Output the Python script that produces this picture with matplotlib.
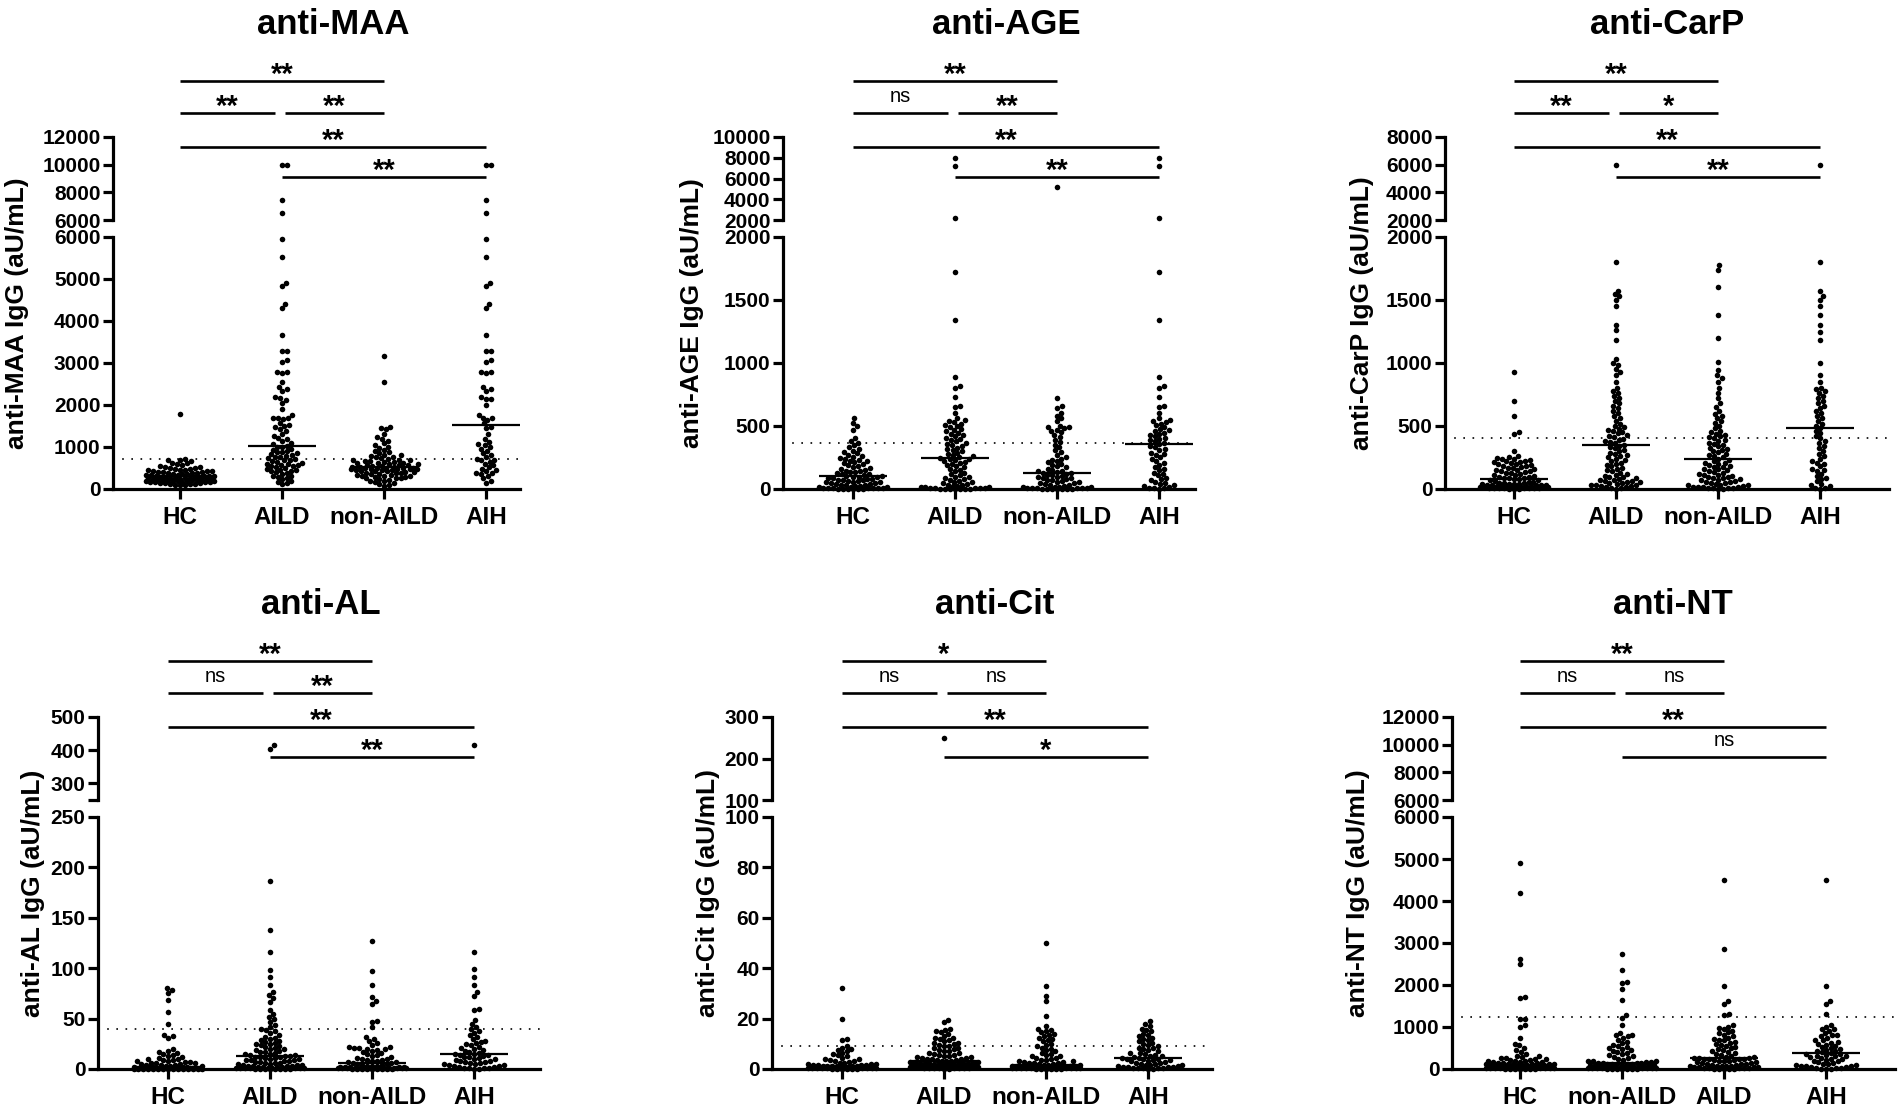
import numpy as np
import matplotlib
matplotlib.use("Agg")
import matplotlib.pyplot as plt
from matplotlib.transforms import blended_transform_factory

# ---- data (aU/mL) ----
groups = ["HC", "AILD", "non-AILD", "AIH"]
groups_nt = ["HC", "non-AILD", "AILD", "AIH"]

maa_hc = [1790, 725, 700, 680, 655, 630, 610, 585, 565, 550, 530, 515, 505, 495, 480, 472, 460, 455, 445, 436,
          428, 420, 410, 404, 396, 388, 380, 372, 366, 358, 350, 344, 336, 328, 320, 316, 308, 302, 296, 290,
          284, 279, 273, 268, 262, 258, 252, 247, 243, 238, 233, 229, 224, 220, 215, 211, 206, 201, 197, 192,
          188, 183, 178, 172, 167, 161, 155, 149, 143, 136, 128, 121, 113, 104, 95, 84]
maa_aild = [10000, 9950, 7450, 6500, 5950, 5530, 4900, 4830, 4400, 4310, 3660, 3290, 3280, 3070, 3020, 2790, 2780,
            2760, 2550, 2420, 2370, 2330, 2180, 2160, 2120, 2050, 1900, 1760, 1700, 1690, 1680, 1660, 1560, 1520,
            1490, 1470, 1430, 1380, 1320, 1260, 1220, 1190, 1140, 1100, 1060, 1030, 1010, 990, 960, 940, 910, 890,
            870, 850, 830, 810, 790, 770, 750, 730, 710, 700, 680, 660, 640, 620, 600, 580, 560, 540, 520, 500,
            480, 460, 440, 420, 400, 380, 350, 320, 290, 260, 230, 200, 170, 140, 110, 600, 550, 450, 300]
maa_non = [3170, 2550, 1480, 1460, 1420, 1310, 1240, 1200, 1150, 1090, 1040, 1000, 970, 940, 900, 870, 850, 820,
           800, 790, 770, 750, 730, 720, 700, 690, 680, 670, 660, 650, 640, 630, 620, 610, 600, 590, 580, 570,
           560, 550, 540, 530, 520, 515, 510, 505, 500, 495, 490, 485, 480, 475, 470, 465, 460, 455, 450, 440,
           430, 420, 410, 400, 390, 380, 370, 360, 350, 340, 330, 320, 310, 300, 290, 280, 270, 260, 250, 240,
           220, 200, 180, 160, 140, 120, 100, 80]
maa_aih = [10000, 9950, 7450, 6500, 5950, 5530, 4900, 4830, 4400, 4310, 3660, 3290, 3280, 3070, 3020, 2790, 2780,
           2760, 2420, 2370, 2330, 2180, 2150, 2140, 2000, 1760, 1700, 1690, 1650, 1560, 1480, 1450, 1300, 1200,
           1120, 1060, 1040, 1000, 960, 900, 850, 800, 760, 720, 700, 650, 600, 560, 520, 480, 450, 420, 390,
           350, 300, 250, 200, 150, 680, 380]

age_hc = [560, 522, 497, 472, 402, 381, 362, 347, 331, 316, 302, 291, 282, 271, 263, 256, 247, 241, 233, 226,
          219, 211, 203, 196, 188, 181, 173, 166, 159, 151, 146, 141, 136, 131, 126, 121, 116, 111, 107, 103,
          99, 96, 92, 89, 85, 82, 78, 75, 72, 68, 65, 62, 58, 55, 52, 48, 45, 42, 38, 35, 32, 28, 25, 22, 18,
          15, 12, 10, 8, 6, 5, 4, 3, 2, 1, 0.5, 1.5, 2.5, 7, 9]
age_aild = [7950, 7200, 2190, 1720, 1340, 890, 815, 800, 730, 660, 650, 605, 560, 548, 537, 528, 518, 506, 497,
            489, 478, 466, 458, 447, 436, 428, 417, 405, 396, 386, 377, 366, 357, 348, 338, 329, 318, 309, 298,
            289, 279, 268, 259, 251, 246, 241, 236, 231, 224, 218, 209, 198, 191, 179, 171, 158, 149, 141, 128,
            119, 108, 99, 93, 87, 79, 72, 66, 58, 53, 46, 41, 34, 29, 26, 21, 17, 14, 11, 8, 6, 5, 4, 3, 2,
            1.5, 1, 0.5, 0.8, 2.5, 12]
age_non = [5180, 722, 655, 640, 602, 581, 560, 541, 503, 496, 489, 481, 472, 461, 449, 431, 412, 392, 371, 352,
           331, 309, 291, 272, 251, 241, 232, 221, 211, 201, 192, 181, 172, 161, 151, 146, 139, 134, 129, 124,
           119, 114, 109, 104, 99, 94, 89, 84, 79, 74, 69, 64, 59, 54, 49, 44, 39, 34, 29, 24, 19, 16, 12, 10,
           8, 6, 5, 4, 3, 2, 1, 0.5, 0.8, 1.5, 2.5, 7, 14]
age_aih = [7950, 7200, 2190, 1720, 1340, 890, 815, 800, 730, 660, 650, 605, 560, 548, 537, 528, 518, 506, 489,
           478, 466, 458, 447, 436, 428, 417, 405, 396, 386, 377, 366, 355, 345, 331, 318, 309, 289, 279, 268,
           251, 236, 224, 209, 191, 171, 158, 149, 128, 119, 108, 87, 79, 58, 41, 29, 21, 15, 10, 8, 5, 2, 45, 70]

carp_hc = [930, 702, 578, 452, 438, 298, 262, 251, 246, 239, 236, 229, 226, 219, 214, 211, 204, 199, 196, 189,
           184, 181, 174, 169, 166, 159, 154, 151, 146, 139, 136, 129, 126, 119, 114, 109, 104, 99, 96, 91, 88,
           84, 79, 76, 71, 68, 64, 59, 56, 51, 48, 44, 39, 36, 31, 28, 24, 19, 16, 11, 8, 5, 3, 1, 2, 4, 6, 10,
           14, 18, 22, 26, 30, 34, 38, 42, 7, 9, 12, 13, 17, 21, 27, 33]
carp_aild = [6000, 1800, 1572, 1548, 1530, 1498, 1452, 1302, 1258, 1182, 1031, 1002, 988, 951, 928, 902, 851, 802,
             779, 762, 741, 719, 702, 679, 661, 641, 618, 602, 579, 562, 541, 518, 501, 492, 479, 471, 461, 449,
             441, 428, 421, 411, 398, 391, 379, 371, 362, 351, 342, 331, 322, 309, 301, 289, 281, 268, 261, 251,
             242, 231, 222, 209, 201, 192, 181, 169, 162, 151, 142, 128, 121, 112, 101, 92, 81, 72, 61, 52, 41,
             31, 22, 11, 5, 2, 15, 25, 35, 45, 55, 65, 75, 85, 12, 33, 48, 95]
carp_non = [1780, 1742, 1601, 1379, 1201, 1011, 948, 902, 879, 851, 801, 762, 719, 681, 652, 621, 598, 579, 561,
            539, 521, 502, 481, 462, 451, 439, 431, 418, 411, 401, 389, 381, 369, 361, 352, 341, 329, 321, 312,
            301, 291, 279, 272, 261, 251, 242, 229, 221, 209, 199, 191, 179, 171, 161, 149, 141, 129, 119, 111,
            99, 91, 79, 71, 59, 51, 39, 31, 19, 9, 5, 2, 3, 6, 8, 12, 15, 18, 25, 28, 35, 45, 55, 65, 75, 85,
            95, 105, 115, 135, 155, 175, 205]
carp_aih = [6000, 1800, 1572, 1530, 1498, 1452, 1381, 1302, 1249, 1182, 1002, 902, 851, 802, 791, 779, 762, 741,
            719, 702, 679, 661, 641, 618, 602, 579, 562, 541, 518, 501, 482, 461, 441, 421, 401, 379, 362, 341,
            322, 301, 281, 261, 242, 222, 201, 181, 162, 142, 121, 101, 81, 61, 41, 22, 11, 5, 2, 30, 90, 150, 210]

al_hc = [80, 78, 75, 68, 57, 45, 34, 33, 31, 20, 18, 17, 16, 15, 14, 13, 12, 11, 10, 9.5, 9, 8.5, 8, 7.6, 7.2,
         6.8, 6.4, 6, 5.6, 5.2, 4.8, 4.4, 4, 3.6, 3.2, 2.8, 2.5, 2.2, 2, 1.8, 1.6, 1.5, 1.4, 1.3, 1.2, 1.1, 1.0,
         0.95, 0.9, 0.85, 0.8, 0.75, 0.7, 0.65, 0.6, 0.55, 0.5, 0.45, 0.4, 0.35, 0.3, 0.25, 0.2, 0.15, 0.1,
         0.05, 0.02, 0.9, 0.8, 0.7, 0.6, 0.5, 0.4, 0.3, 0.2, 0.1, 1.2, 1.0, 0.5, 0.3]
al_aild = [415, 405, 187, 138, 116, 98, 91, 83, 76, 73, 70, 66, 59, 55, 50, 47, 44, 42, 40, 38, 36, 34, 32, 30,
           29, 28, 27, 26, 25, 24, 23, 22, 21, 20, 19, 18, 17, 16, 15, 14.5, 14, 13.5, 13, 12.5, 12, 11, 10, 9,
           8, 7, 6, 5, 4, 3.5, 3, 2.5, 2, 1.5, 1, 0.8, 0.5, 0.3, 0.2, 0.4, 0.6, 1.2, 2.2, 3.2, 4.5, 5.5, 6.5,
           7.5, 8.5, 9.5, 10.5, 11.5, 12.2, 16.5, 19.5, 24.5, 31, 39, 52, 0.1, 0.15, 0.25, 0.35, 0.45, 0.7,
           0.9, 1.1, 1.4, 1.7, 2.7, 4.2, 5.8, 9.2]
al_non = [127, 97, 83, 71, 67, 64, 48, 47, 42, 32, 30, 28, 26, 24, 22, 21.5, 21, 20.5, 20, 19.5, 19, 18, 17, 16,
          15, 14, 13, 12, 11, 10, 9.5, 9, 8.5, 8, 7.5, 7, 6.5, 6, 5.5, 5, 4.5, 4, 3.5, 3, 2.5, 2, 1.8, 1.6, 1.4,
          1.2, 1, 0.9, 0.8, 0.7, 0.6, 0.5, 0.4, 0.3, 0.2, 0.1, 0.05, 0.15, 0.25, 0.35, 0.45, 0.55, 0.65, 0.75,
          0.85, 0.95, 1.1, 1.3, 1.5, 2.2, 3.2]
al_aih = [415, 116, 99, 91, 83, 76, 72, 60, 59, 49, 45, 42, 40, 38, 36, 34, 32, 30, 28, 27, 26, 25, 24, 22, 21,
          20, 19, 18, 17, 16, 15, 14, 13, 12, 11, 10, 9, 8, 7, 6, 5, 4, 3, 2, 1.5, 1, 0.5, 0.2, 0.3, 0.8, 1.2,
          2.5, 3.5, 4.5, 5.5, 6.5, 7.5, 9.5, 11.5, 13.5, 14.5]

cit_hc = [32, 20, 12, 11.5, 9, 8.5, 8, 7.5, 7, 6.5, 6, 5.5, 5, 4.5, 4, 3.8, 3.5, 3.2, 3, 2.8, 2.5, 2.3, 2, 1.9,
          1.8, 1.7, 1.6, 1.5, 1.4, 1.3, 1.2, 1.1, 1, 0.9, 0.8, 0.7, 0.6, 0.5, 0.4, 0.3, 0.2, 0.1, 0.15, 0.25,
          0.35, 0.45, 0.55, 0.65, 0.75, 0.85, 0.95, 1.05, 1.15, 0.12, 0.22, 0.32, 0.42, 0.52, 0.62, 0.72, 0.82,
          0.92, 0.05, 0.08, 0.18, 0.28]
cit_aild = [250, 19.5, 18.5, 16, 15.5, 15, 14, 13, 12.5, 12, 11.5, 11, 10.5, 10, 9.5, 9, 8.5, 8, 7.5, 7, 6.5, 6,
            5.5, 5, 4.8, 4.5, 4.2, 4, 3.8, 3.5, 3.2, 3, 2.8, 2.6, 2.4, 2.2, 2, 1.8, 1.6, 1.4, 1.2, 1, 0.8, 0.6,
            0.4, 0.2, 0.1, 0.3, 0.5, 0.7, 0.9, 1.1, 1.3, 1.5, 1.7, 1.9, 2.1, 2.3, 2.5, 2.7, 0.15, 0.35, 0.55,
            5.2, 6.2, 7.2, 8.2, 9.2, 10.2, 12.2, 14.5, 3.3, 3.6, 4.1, 4.6, 5.7, 0.25, 0.45, 0.65, 0.85, 1.05,
            1.25, 1.45, 1.65, 1.85, 2.05, 2.25, 2.45, 2.65]
cit_non = [50, 33, 29, 27, 21, 17, 16, 15.5, 15, 14, 13.5, 13, 12, 11, 10, 9, 8, 7, 6.5, 6, 5.5, 5, 4.5, 4, 3.5,
           3, 2.7, 2.4, 2.1, 1.9, 1.7, 1.5, 1.4, 1.3, 1.2, 1.1, 1, 0.9, 0.8, 0.7, 0.6, 0.5, 0.4, 0.3, 0.2, 0.1,
           0.05, 0.15, 0.25, 0.35, 0.45, 0.55, 0.65, 0.75, 0.85, 0.95, 1.05, 1.15, 1.25, 1.35, 0.12, 0.22, 0.32,
           5.2, 4.2, 3.2, 2.2, 2.5, 2.9, 3.7, 7.5, 8.5, 9.5, 11.5, 12.5, 14.5, 0.08, 0.18, 0.28, 0.38, 0.48,
           0.58, 0.68, 0.78, 0.88, 0.98, 1.08, 1.18, 1.28]
cit_aih = [19, 18, 16, 15.5, 15, 14, 13, 12.5, 12, 11, 10.5, 10, 9.5, 9, 8.5, 8, 7, 6.5, 6, 5.5, 5, 4.8, 4.5, 4.2,
           4, 3.8, 3.5, 3, 2.5, 2, 1.8, 1.5, 1.2, 1, 0.8, 0.6, 0.5, 0.4, 0.3, 0.2, 0.1, 0.7, 1.4, 2.2, 3.3, 17,
           13.5, 11.5, 7.5, 5.2, 6.2, 8.2, 0.15, 0.9, 1.6, 2.7, 3.6, 4.1, 0.35]

nt_hc = [4900, 4200, 2620, 2500, 1720, 1680, 1200, 1180, 1050, 1000, 750, 600, 560, 500, 450, 400, 350, 320, 300,
         280, 260, 240, 220, 200, 190, 180, 170, 160, 150, 140, 130, 125, 120, 115, 110, 105, 100, 95, 90, 85, 80,
         75, 70, 65, 60, 55, 50, 45, 40, 35, 30, 25, 20, 15, 10, 5, 2, 4, 8, 12, 18, 22, 28, 33, 38, 42, 48, 52,
         58, 62, 68, 72, 88, 110, 135, 165, 210, 230, 270, 3, 7, 14, 26, 44, 78]
nt_non = [2750, 2350, 2080, 2050, 1900, 1650, 1280, 1220, 1050, 850, 820, 800, 780, 750, 700, 650, 620, 580, 550,
          520, 500, 480, 450, 420, 400, 380, 350, 330, 300, 280, 260, 240, 220, 200, 190, 180, 170, 160, 150, 140,
          130, 120, 110, 100, 90, 80, 70, 60, 50, 40, 30, 20, 10, 5, 2, 4, 8, 12, 15, 18, 25, 28, 35, 45, 55, 65,
          75, 85, 95, 105, 115, 125, 135, 145, 3, 7, 22]
nt_aild = [4500, 2850, 1980, 1620, 1550, 1300, 1280, 1050, 1000, 980, 950, 900, 870, 850, 800, 780, 750, 720, 700,
           680, 650, 620, 600, 580, 550, 520, 500, 480, 450, 420, 400, 380, 350, 330, 300, 290, 280, 270, 260,
           250, 240, 230, 220, 200, 180, 160, 140, 120, 100, 80, 60, 40, 20, 10, 5, 2, 4, 8, 15, 25, 30, 35, 45,
           50, 55, 65, 70, 75, 90, 110, 130, 150, 170, 190, 210, 235, 255]
nt_aih = [4500, 1980, 1620, 1550, 1300, 1050, 1000, 950, 950, 900, 850, 800, 800, 780, 750, 700, 680, 650, 620,
          600, 580, 550, 520, 500, 480, 460, 440, 420, 400, 380, 360, 340, 320, 300, 280, 260, 240, 220, 200, 180,
          160, 140, 120, 100, 80, 60, 40, 20, 10, 5, 2, 15, 30, 50, 70, 90, 110, 250, 310, 350]

# cut-off values (dotted lines)
cutoffs = [720, 365, 405, 40, 9, 1240]

# significance: pairs (i, j), bracket level and labels per panel
sig_pairs = [(0, 2), (0, 1), (1, 2), (0, 3), (1, 3)]
sig_levels = [1, 2, 2, 3, 4]
sig_maa = ["**", "**", "**", "**", "**"]
sig_age = ["**", "ns", "**", "**", "**"]
sig_carp = ["**", "**", "*", "**", "**"]
sig_al = ["**", "ns", "**", "**", "**"]
sig_cit = ["*", "ns", "ns", "**", "*"]
sig_nt = ["**", "ns", "ns", "**", "ns"]

# ---- layout (pixels of the 1902 x 1110 canvas) ----
W, H = 1902, 1110
STEP = 102
panels = [
    dict(title="anti-MAA", data=[maa_hc, maa_aild, maa_non, maa_aih], groups=groups, row=0,
         lower=(0, 6000), upper=(6000, 12000), lticks=[0, 1000, 2000, 3000, 4000, 5000, 6000],
         uticks=[6000, 8000, 10000, 12000], ulabels=None, cut=cutoffs[0], sig=sig_maa,
         spine=113, cat0=180, end=520, ylx=17),
    dict(title="anti-AGE", data=[age_hc, age_aild, age_non, age_aih], groups=groups, row=0,
         lower=(0, 2000), upper=(2000, 10000), lticks=[0, 500, 1000, 1500, 2000],
         uticks=[2000, 4000, 6000, 8000, 10000], ulabels=None, cut=cutoffs[1], sig=sig_age,
         spine=783, cat0=853, end=1195, ylx=692),
    dict(title="anti-CarP", data=[carp_hc, carp_aild, carp_non, carp_aih], groups=groups, row=0,
         lower=(0, 2000), upper=(2000, 8000), lticks=[0, 500, 1000, 1500, 2000],
         uticks=[2000, 4000, 6000, 8000], ulabels=None, cut=cutoffs[2], sig=sig_carp,
         spine=1445, cat0=1514, end=1889, ylx=1362),
    dict(title="anti-AL", data=[al_hc, al_aild, al_non, al_aih], groups=groups, row=1,
         lower=(0, 250), upper=(250, 500), lticks=[0, 50, 100, 150, 200, 250],
         uticks=[250, 300, 400, 500], ulabels=["", "300", "400", "500"], cut=cutoffs[3], sig=sig_al,
         spine=98, cat0=168, end=540, ylx=33),
    dict(title="anti-Cit", data=[cit_hc, cit_aild, cit_non, cit_aih], groups=groups, row=1,
         lower=(0, 100), upper=(100, 300), lticks=[0, 20, 40, 60, 80, 100],
         uticks=[100, 200, 300], ulabels=None, cut=cutoffs[4], sig=sig_cit,
         spine=772, cat0=842, end=1212, ylx=708),
    dict(title="anti-NT", data=[nt_hc, nt_non, nt_aild, nt_aih], groups=groups_nt, row=1,
         lower=(0, 6000), upper=(6000, 12000), lticks=[0, 1000, 2000, 3000, 4000, 5000, 6000],
         uticks=[6000, 8000, 10000, 12000], ulabels=None, cut=cutoffs[5], sig=sig_nt,
         spine=1452, cat0=1520, end=1895, ylx=1358),
]

plt.rcParams["font.family"] = ["Liberation Sans", "DejaVu Sans"]
plt.rcParams["font.weight"] = "bold"

fig = plt.figure(figsize=(W / 100, H / 100), dpi=100)


def rect(left, right, top, bottom):
    return [left / W, 1 - bottom / H, (right - left) / W, (bottom - top) / H]


def fy(ypx):
    return 1 - ypx / H


def swarm(ypx, d=5.0, maxw=34.0):
    # simple beeswarm: horizontal offsets in pixels for points at display heights ypx
    out = np.zeros(len(ypx))
    px_done, py_done = [], []
    for k in np.argsort(ypx, kind="stable"):
        y = ypx[k]
        near = [(px, py) for px, py in zip(px_done, py_done) if abs(py - y) < d]
        cands = [0.0]
        for px, py in near:
            dx = np.sqrt(d * d - (py - y) ** 2)
            cands += [px + dx, px - dx]
        cands.sort(key=abs)
        chosen = None
        for c in cands:
            if abs(c) > maxw:
                continue
            if all((c - px) ** 2 + (y - py) ** 2 >= d * d - 1e-6 for px, py in near):
                chosen = c
                break
        if chosen is None:
            grid = np.linspace(-maxw, maxw, 29)
            chosen = max(grid, key=lambda c: min((c - px) ** 2 + (y - py) ** 2 for px, py in near))
        out[k] = chosen
        px_done.append(chosen)
        py_done.append(y)
    return out


for p in panels:
    off = 580 * p["row"]
    base, ltop, utop, ubot = 489 + off, 237 + off, 137 + off, 220 + off
    x0 = -(p["cat0"] - p["spine"]) / STEP
    x1 = (p["end"] - p["cat0"]) / STEP

    ax = fig.add_axes(rect(p["spine"], p["end"], ltop, base))
    axu = fig.add_axes(rect(p["spine"], p["end"], utop, ubot))
    for a in (ax, axu):
        a.set_xlim(x0, x1)
        a.patch.set_alpha(0)
        a.spines[["top", "right"]].set_visible(False)
        a.spines["left"].set_linewidth(2.3)
        a.tick_params(axis="y", length=7, width=2.3, labelsize=15, pad=2)
    ax.set_ylim(*p["lower"])
    axu.set_ylim(*p["upper"])
    ax.spines["bottom"].set_linewidth(2.3)
    axu.spines["bottom"].set_visible(False)
    axu.set_xticks([])
    ax.set_xticks(range(4))
    ax.set_xticklabels(p["groups"])
    ax.tick_params(axis="x", length=7, width=2.3, labelsize=17.5, pad=5)
    ax.set_yticks(p["lticks"])
    ax.set_yticklabels([str(t) for t in p["lticks"]])
    axu.set_yticks(p["uticks"])
    axu.set_yticklabels(p["ulabels"] if p["ulabels"] else [str(t) for t in p["uticks"]])

    split = p["lower"][1]
    unit = ax.transData.transform((1, 0))[0] - ax.transData.transform((0, 0))[0]
    for i, vals in enumerate(p["data"]):
        v = np.asarray(vals, float)
        up = v > split
        ypx = np.array([(axu if u else ax).transData.transform((i, val))[1] for val, u in zip(v, up)])
        xs = i + swarm(ypx) / unit
        ax.scatter(xs[~up], v[~up], s=16, color="black", linewidths=0, clip_on=False, zorder=4)
        if up.any():
            axu.scatter(xs[up], v[up], s=16, color="black", linewidths=0, clip_on=False, zorder=4)
        med = np.median(v)
        ax.plot([i - 0.33, i + 0.33], [med, med], color="black", lw=1.6, zorder=5,
                solid_capstyle="butt", clip_on=False)

    ax.axhline(p["cut"], color="black", lw=1.2, ls=(0, (1, 4.5)), zorder=3)

    # significance brackets
    tr = blended_transform_factory(axu.transData, fig.transFigure)
    bar_y = {1: 81 + off, 2: 113 + off, 3: 147 + off, 4: 177 + off}
    for (i, j), lev, lab in zip(sig_pairs, sig_levels, p["sig"]):
        xa, xb = i, j
        if (i, j) == (0, 1):
            xb = j - 0.07
        if (i, j) == (1, 2):
            xa = i + 0.03
        yb = bar_y[lev]
        axu.plot([xa, xb], [fy(yb), fy(yb)], color="black", lw=1.9, transform=tr,
                 clip_on=False, solid_capstyle="butt")
        xm = (xa + xb) / 2
        if lab == "ns":
            axu.text(xm, fy(yb - 11), lab, transform=tr, ha="center", va="baseline",
                     fontsize=14.5, fontweight="normal")
        else:
            axu.text(xm, fy(yb + 2), lab, transform=tr, ha="center", va="baseline",
                     fontsize=21, fontweight="bold")

    # title and y label
    xc = p["cat0"] + 1.5 * STEP
    fig.text(xc / W, fy(34 + off), p["title"], ha="center", va="baseline", fontsize=25, fontweight="bold")
    fig.text(p["ylx"] / W, fy((utop + base) / 2), p["title"] + " IgG (aU/mL)", rotation=90,
             ha="center", va="center", fontsize=19, fontweight="bold")

fig.savefig("out.png", dpi=100)
